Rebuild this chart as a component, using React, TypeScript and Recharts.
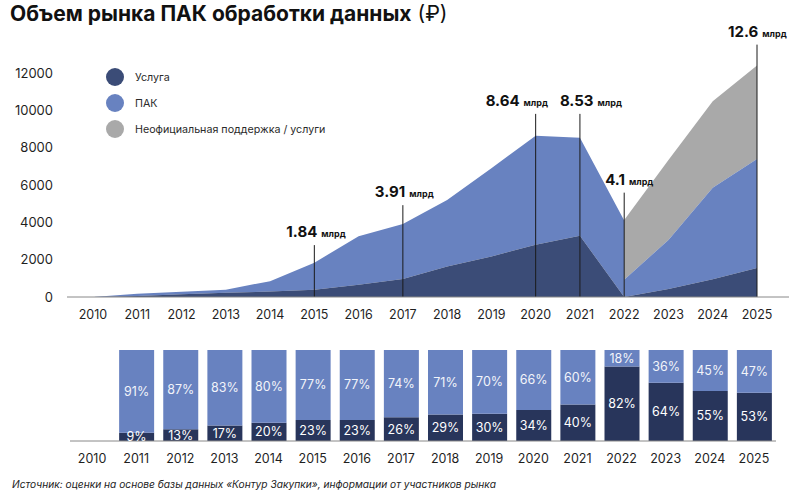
import {
  ComposedChart,
  Area,
  Bar,
  BarChart,
  XAxis,
  YAxis,
  ReferenceLine,
  LabelList,
} from 'recharts'

const FONT = 'Inter, "Noto Sans", sans-serif'

const years = ['2010', '2011', '2012', '2013', '2014', '2015', '2016', '2017', '2018', '2019', '2020', '2021', '2022', '2023', '2024', '2025']

// до 2022 года (2010–2022)
const serviceBefore = [0, 60, 150, 230, 290, 390, 660, 960, 1640, 2170, 2800, 3280, 0]
const totalBefore = [0, 180, 280, 390, 850, 1840, 3250, 3910, 5200, 6900, 8640, 8530, 4100]

// с 2022 года (2022–2025)
const serviceAfter = [0, 430, 950, 1550]
const pakTopAfter = [920, 3060, 5850, 7390]
const totalAfter = [4130, 7340, 10480, 12400]

const yTicks = [0, 2000, 4000, 6000, 8000, 10000, 12000]

// подписи объёма рынка
const annYears = ['2015', '2017', '2020', '2021', '2022', '2025']
const annText = ['1.84', '3.91', '8.64', '8.53', '4.1', '12.6']
const annLineTop = [2780, 4920, 9810, 9810, 5590, 13520]
const annShift = [-28, -28, -50, -20, -19, -29]

// доли в процентах (нижний график)
const serviceShare = [null, 9, 13, 17, 20, 23, 23, 26, 29, 30, 34, 40, 82, 64, 55, 53]
const pakShare = [null, 91, 87, 83, 80, 77, 77, 74, 71, 70, 66, 60, 18, 36, 45, 47]

const legendNames = ['Услуга', 'ПАК', 'Неофициальная поддержка / услуги']
const C_SERVICE = '#3b4c77'
const C_PAK = '#6882c0'
const C_GREY = '#a9a9a9'
const C_SERVICE_BAR = '#28355b'
const legendColors = [C_SERVICE, C_PAK, C_GREY]

const startAfter = years.indexOf('2022')

const areaData = years.map((year, i) => {
  const row: any = { year }
  if (i < totalBefore.length) {
    row.svcA = [0, serviceBefore[i]]
    row.pakA = [serviceBefore[i], totalBefore[i]]
  } else {
    row.svcA = null
    row.pakA = null
  }
  const j = i - startAfter
  if (j >= 0) {
    row.svcB = [0, serviceAfter[j]]
    row.pakB = [serviceAfter[j], pakTopAfter[j]]
    row.greyB = [pakTopAfter[j], totalAfter[j]]
  } else {
    row.svcB = null
    row.pakB = null
    row.greyB = null
  }
  return row
})

const shareData = years.map((year, i) => ({ year, svc: serviceShare[i], pak: pakShare[i] }))

const tickStyle = { fill: '#1f1f1f', fontSize: 12.5, fontFamily: FONT }

function AnnLabel(props: any) {
  const { viewBox, text, shift } = props
  if (!viewBox) return null
  return (
    <text x={viewBox.x + shift} y={viewBox.y - 8} fontFamily={FONT} fontWeight={700} fill="#111">
      <tspan fontSize={15}>{text}</tspan>
      <tspan fontSize={9} dx={4}>млрд</tspan>
    </text>
  )
}

function LegendBox() {
  return (
    <div style={{ position: 'absolute', left: 106, top: 64, fontFamily: FONT, fontSize: 10.7, color: '#2a2a2a' }}>
      {legendNames.map((name, i) => (
        <div key={name} style={{ display: 'flex', alignItems: 'center', height: 26 }}>
          <span style={{ width: 18, height: 18, borderRadius: 9, background: legendColors[i], marginRight: 11 }} />
          {name}
        </div>
      ))}
    </div>
  )
}

export default function App() {
  return (
    <div style={{ position: 'absolute', left: 0, top: 0, width: 800, height: 499, background: '#fff' }}>
      <div style={{ position: 'absolute', left: 10, top: 1, fontFamily: FONT, fontSize: 21, color: '#111', whiteSpace: 'nowrap' }}>
        <span style={{ fontWeight: 700 }}>Объем рынка ПАК обработки данных</span>
        <span style={{ fontWeight: 400 }}> (₽)</span>
      </div>

      <div style={{ position: 'absolute', left: 0, top: 0 }}>
        <ComposedChart width={800} height={330} data={areaData} margin={{ top: 17, right: 11, bottom: 3, left: 0 }}>
          <XAxis
            dataKey="year"
            tick={tickStyle}
            tickLine={false}
            axisLine={{ stroke: '#888' }}
            tickMargin={7}
            interval={0}
            padding={{ left: 26, right: 32 }}
          />
          <YAxis
            domain={[0, 15000]}
            ticks={yTicks}
            tick={{ ...tickStyle, fontSize: 13 }}
            tickLine={false}
            axisLine={false}
            tickMargin={8}
            width={67}
          />
          <Area dataKey="pakA" stroke="none" fill={C_PAK} fillOpacity={1} isAnimationActive={false} connectNulls={false} />
          <Area dataKey="svcA" stroke="none" fill={C_SERVICE} fillOpacity={1} isAnimationActive={false} connectNulls={false} />
          <Area dataKey="greyB" stroke="none" fill={C_GREY} fillOpacity={1} isAnimationActive={false} connectNulls={false} />
          <Area dataKey="pakB" stroke="none" fill={C_PAK} fillOpacity={1} isAnimationActive={false} connectNulls={false} />
          <Area dataKey="svcB" stroke="none" fill={C_SERVICE} fillOpacity={1} isAnimationActive={false} connectNulls={false} />
          {annYears.map((y, i) => (
            <ReferenceLine
              key={y}
              segment={[{ x: y, y: 0 }, { x: y, y: annLineTop[i] }]}
              stroke="#1a1a1a"
              strokeWidth={1}
              ifOverflow="visible"
              label={(p: any) => <AnnLabel {...p} text={annText[i]} shift={annShift[i]} />}
            />
          ))}
        </ComposedChart>
      </div>

      <LegendBox />

      <div style={{ position: 'absolute', left: 0, top: 340 }}>
        <BarChart width={800} height={140} data={shareData} margin={{ top: 10, right: 24, bottom: 9, left: 70 }}>
          <XAxis
            dataKey="year"
            tick={tickStyle}
            tickLine={false}
            axisLine={{ stroke: '#888' }}
            tickMargin={7}
            interval={0}
          />
          <YAxis hide domain={[0, 100]} />
          <Bar dataKey="svc" stackId="s" fill={C_SERVICE_BAR} barSize={35} isAnimationActive={false}>
            <LabelList dataKey="svc" position="center" fill="#fff" fontSize={12.5} fontFamily={FONT} formatter={(v: any) => (v == null ? '' : v + '%')} />
          </Bar>
          <Bar dataKey="pak" stackId="s" fill={C_PAK} barSize={35} isAnimationActive={false}>
            <LabelList dataKey="pak" position="center" fill="#f2f4fa" fontSize={12.5} fontFamily={FONT} formatter={(v: any) => (v == null ? '' : v + '%')} />
          </Bar>
        </BarChart>
      </div>

      <div style={{ position: 'absolute', left: 12, top: 478, fontFamily: FONT, fontSize: 10.2, fontStyle: 'italic', color: '#222', whiteSpace: 'nowrap' }}>
        Источник: оценки на основе базы данных «Контур Закупки», информации от участников рынка
      </div>
    </div>
  )
}
